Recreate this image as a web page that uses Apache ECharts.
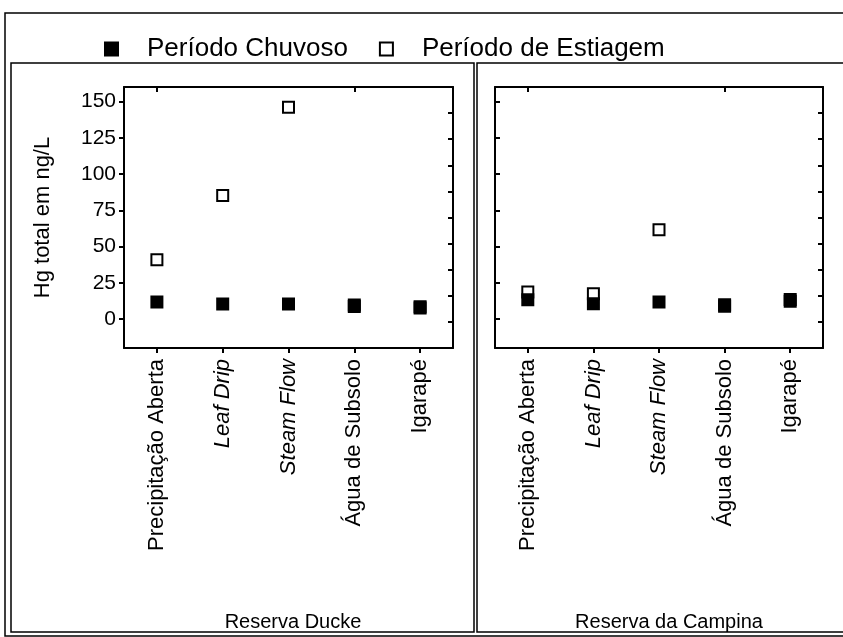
<!DOCTYPE html>
<html>
<head>
<meta charset="utf-8">
<script src="https://cdn.jsdelivr.net/npm/echarts@6/dist/echarts.min.js"></script>
<style>
  html, body { margin: 0; padding: 0; background: #fff; }
  #chart { width: 843px; height: 637px; }
</style>
</head>
<body>
<div id="chart"></div>
<script>
// Sampling points along the water path
const categories = ['Precipitação Aberta', 'Leaf Drip', 'Steam Flow', 'Água de Subsolo', 'Igarapé'];
const italicCategories = ['Leaf Drip', 'Steam Flow'];
const sites = ['Reserva Ducke', 'Reserva da Campina'];
const seasonNames = ['Período Chuvoso', 'Período de Estiagem'];

// Total Hg (ng/L) per site and season
const duckeChuvoso = [11.7, 10.4, 10.4, 9.6, 8.5];
const duckeEstiagem = [40.8, 85.2, 146, 8.6, 7.6];
const campinaChuvoso = [13.3, 10.6, 11.7, 9.8, 12.3];
const campinaEstiagem = [18.6, 17.4, 61.6, 8.8, 13.4];

const yTicks = [0, 25, 50, 75, 100, 125, 150];
const yTitle = 'Hg total em ng/L';

const FONT = 'Liberation Sans, Arial, sans-serif';
const BLACK = '#000';

const chart = echarts.init(document.getElementById('chart'));

const grids = [
  { left: 124, top: 87, width: 329, height: 261 },
  { left: 495, top: 87, width: 328, height: 261 }
];

const lineStyle = { color: BLACK, width: 2 };
const tickStyle = { color: BLACK, width: 2 };

function bottomAxis(gridIndex) {
  return {
    type: 'category', gridIndex, position: 'bottom', data: categories,
    axisLine: { show: true, onZero: false, lineStyle },
    axisTick: { show: true, alignWithLabel: true, inside: false, length: 5, lineStyle: tickStyle },
    axisLabel: {
      show: true, rotate: 90, margin: 11, interval: 0,
      color: BLACK, fontFamily: FONT, fontSize: 22,
      formatter: v => italicCategories.includes(v) ? '{i|' + v + '}' : '{n|' + v + '}',
      rich: {
        i: { fontStyle: 'italic', fontFamily: FONT, fontSize: 22, color: BLACK },
        n: { fontFamily: FONT, fontSize: 22, color: BLACK }
      }
    },
    splitLine: { show: false }
  };
}

function topAxis(gridIndex) {
  return {
    type: 'category', gridIndex, position: 'top', data: categories,
    axisLine: { show: true, onZero: false, lineStyle },
    axisTick: { show: true, alignWithLabel: true, inside: true, length: 5, lineStyle: tickStyle },
    axisLabel: { show: false },
    splitLine: { show: false }
  };
}

function leftAxis(gridIndex, withLabels) {
  const ax = {
    type: 'value', gridIndex, position: 'left', min: -20, max: 160,
    axisLine: { show: true, onZero: false, lineStyle },
    axisTick: { show: true, inside: !withLabels, length: 5, lineStyle: tickStyle, customValues: yTicks },
    axisLabel: {
      show: withLabels, margin: 8, color: BLACK, fontFamily: FONT, fontSize: 21,
      customValues: yTicks
    },
    splitLine: { show: false }
  };
  if (withLabels) {
    ax.name = yTitle;
    ax.nameLocation = 'middle';
    ax.nameGap = 70;
    ax.nameTextStyle = { color: BLACK, fontFamily: FONT, fontSize: 22 };
  }
  return ax;
}

function rightAxis(gridIndex) {
  return {
    type: 'value', gridIndex, position: 'right', min: 0, max: 10, interval: 1,
    axisLine: { show: true, onZero: false, lineStyle },
    axisTick: { show: true, inside: true, length: 5, lineStyle: tickStyle },
    axisLabel: { show: false },
    splitLine: { show: false }
  };
}

const openStyle = { color: '#fff', borderColor: BLACK, borderWidth: 2, opacity: 1 };
const filledStyle = { color: BLACK, borderColor: BLACK, borderWidth: 2, opacity: 1 };

function seasonSeries(name, gridIndex, values, style, z) {
  return {
    name, type: 'scatter', xAxisIndex: gridIndex * 2, yAxisIndex: gridIndex * 2,
    data: values, symbol: 'rect', symbolSize: 11, itemStyle: style, z,
    emphasis: { disabled: true }, animation: false
  };
}

const option = {
  animation: false,
  backgroundColor: '#fff',
  textStyle: { fontFamily: FONT },
  grid: grids,
  title: [
    { text: sites[0], left: 288, top: 607, textAlign: 'center',
      textStyle: { fontFamily: FONT, fontSize: 20, fontWeight: 'normal', color: BLACK } },
    { text: sites[1], left: 664, top: 607, textAlign: 'center',
      textStyle: { fontFamily: FONT, fontSize: 20, fontWeight: 'normal', color: BLACK } }
  ],
  legend: {
    data: seasonNames, left: 99, top: 31, itemGap: 31, itemWidth: 13, itemHeight: 13,
    icon: 'rect', selectedMode: false,
    formatter: n => '{t|' + n + '}',
    textStyle: {
      color: BLACK, fontFamily: FONT, fontSize: 26,
      rich: { t: { fontFamily: FONT, fontSize: 26, color: BLACK, padding: [0, 0, 0, 24] } }
    }
  },
  xAxis: [bottomAxis(0), topAxis(0), bottomAxis(1), topAxis(1)],
  yAxis: [leftAxis(0, true), rightAxis(0), leftAxis(1, false), rightAxis(1)],
  series: [
    seasonSeries(seasonNames[1], 0, duckeEstiagem, openStyle, 2),
    seasonSeries(seasonNames[0], 0, duckeChuvoso, filledStyle, 3),
    seasonSeries(seasonNames[1], 1, campinaEstiagem, openStyle, 2),
    seasonSeries(seasonNames[0], 1, campinaChuvoso, filledStyle, 3)
  ],
  graphic: [
    // outer frame and the two panel frames
    { type: 'rect', shape: { x: 5, y: 13, width: 850, height: 623 }, style: { fill: 'none', stroke: BLACK, lineWidth: 1.5 }, silent: true },
    { type: 'rect', shape: { x: 11, y: 63, width: 463, height: 569 }, style: { fill: 'none', stroke: BLACK, lineWidth: 1.5 }, silent: true },
    { type: 'rect', shape: { x: 477, y: 63, width: 380, height: 569 }, style: { fill: 'none', stroke: BLACK, lineWidth: 1.5 }, silent: true }
  ]
};

chart.setOption(option);
</script>
</body>
</html>
